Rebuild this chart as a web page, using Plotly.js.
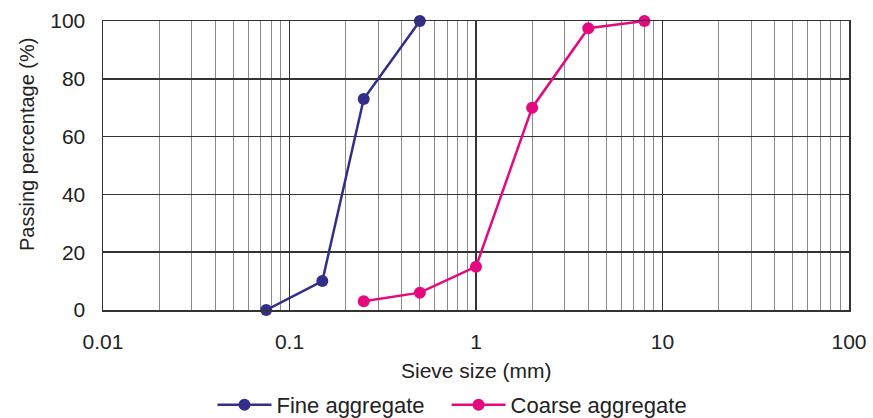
<!DOCTYPE html>
<html>
<head>
<meta charset="utf-8">
<script src="https://cdn.plot.ly/plotly-3.0.1.min.js"></script>
<style>
  html, body { margin: 0; padding: 0; background: #fff; }
  #chart { width: 873px; height: 418px; }
</style>
</head>
<body>
<div id="chart"></div>
<script>
// Sieve sizes (mm) and cumulative passing percentages
const fineSieve = [0.075, 0.15, 0.25, 0.5];
const finePassing = [0, 10, 73, 100];
const coarseSieve = [0.25, 0.5, 1, 2, 4, 8];
const coarsePassing = [3, 6, 15, 70, 97.5, 100];
const xTickVals = [0.01, 0.1, 1, 10, 100];
const xTickText = ['0.01', '0.1', '1', '10', '100'];

const FONT = 'Liberation Sans, Arial, sans-serif';

const traces = [
  {
    x: fineSieve, y: finePassing, name: 'Fine aggregate',
    type: 'scatter', mode: 'lines+markers', legend: 'legend',
    line: { color: '#322f8a', width: 2.5 },
    marker: { color: '#322f8a', size: 12 },
    cliponaxis: false
  },
  {
    x: coarseSieve, y: coarsePassing, name: 'Coarse aggregate',
    type: 'scatter', mode: 'lines+markers', legend: 'legend2',
    line: { color: '#e5097f', width: 2.5 },
    marker: { color: '#e5097f', size: 12 },
    cliponaxis: false
  }
];

// one legend box per series, side by side under the axis title
const legendStyle = {
  orientation: 'h', xref: 'container', xanchor: 'left',
  y: 0.031, yref: 'container', yanchor: 'middle',
  font: { family: FONT, size: 22, color: '#222' },
  itemwidth: 54, tracegroupgap: 0
};

const layout = {
  width: 873, height: 418,
  margin: { l: 103, r: 24, t: 21, b: 108 },
  paper_bgcolor: '#fff', plot_bgcolor: '#fff',
  font: { family: FONT, size: 21, color: '#222' },
  showlegend: true,
  legend: Object.assign({}, legendStyle, { x: 0.2434 }),
  legend2: Object.assign({}, legendStyle, { x: 0.5115 }),
  xaxis: {
    type: 'log', range: [-2, 2], automargin: false,
    tickvals: xTickVals, ticktext: xTickText,
    showgrid: true, gridcolor: '#333', gridwidth: 1.5,
    minor: { dtick: 'D1', showgrid: true, gridcolor: '#8a8a8a', gridwidth: 1, ticklen: 0 },
    showline: true, linecolor: '#333', linewidth: 1.5, mirror: true,
    ticks: 'outside', ticklen: 12, tickcolor: 'rgba(0,0,0,0)', zeroline: false,
    tickfont: { size: 21 }
  },
  yaxis: {
    range: [0, 100], dtick: 20, automargin: false,
    showgrid: true, gridcolor: '#333', gridwidth: 1.5,
    showline: true, linecolor: '#333', linewidth: 1.5, mirror: true,
    ticks: 'outside', ticklen: 12, tickcolor: 'rgba(0,0,0,0)', zeroline: false,
    tickfont: { size: 21 }
  },
  annotations: [
    {
      // x-axis title, set below the tick labels
      text: 'Sieve size (mm)', xref: 'paper', yref: 'paper',
      x: 0.5, y: 0, xanchor: 'center', yanchor: 'top', yshift: -47,
      showarrow: false, font: { family: FONT, size: 21, color: '#222' }
    },
    {
      // y-axis title, rotated, left of the tick labels
      text: 'Passing percentage (%)', xref: 'paper', yref: 'paper',
      x: 0, y: 0.571, xanchor: 'center', yanchor: 'middle', xshift: -76,
      textangle: -90, showarrow: false,
      font: { family: FONT, size: 20, color: '#222' }
    }
  ]
};

Plotly.newPlot('chart', traces, layout, { displayModeBar: false, staticPlot: true });
</script>
</body>
</html>
